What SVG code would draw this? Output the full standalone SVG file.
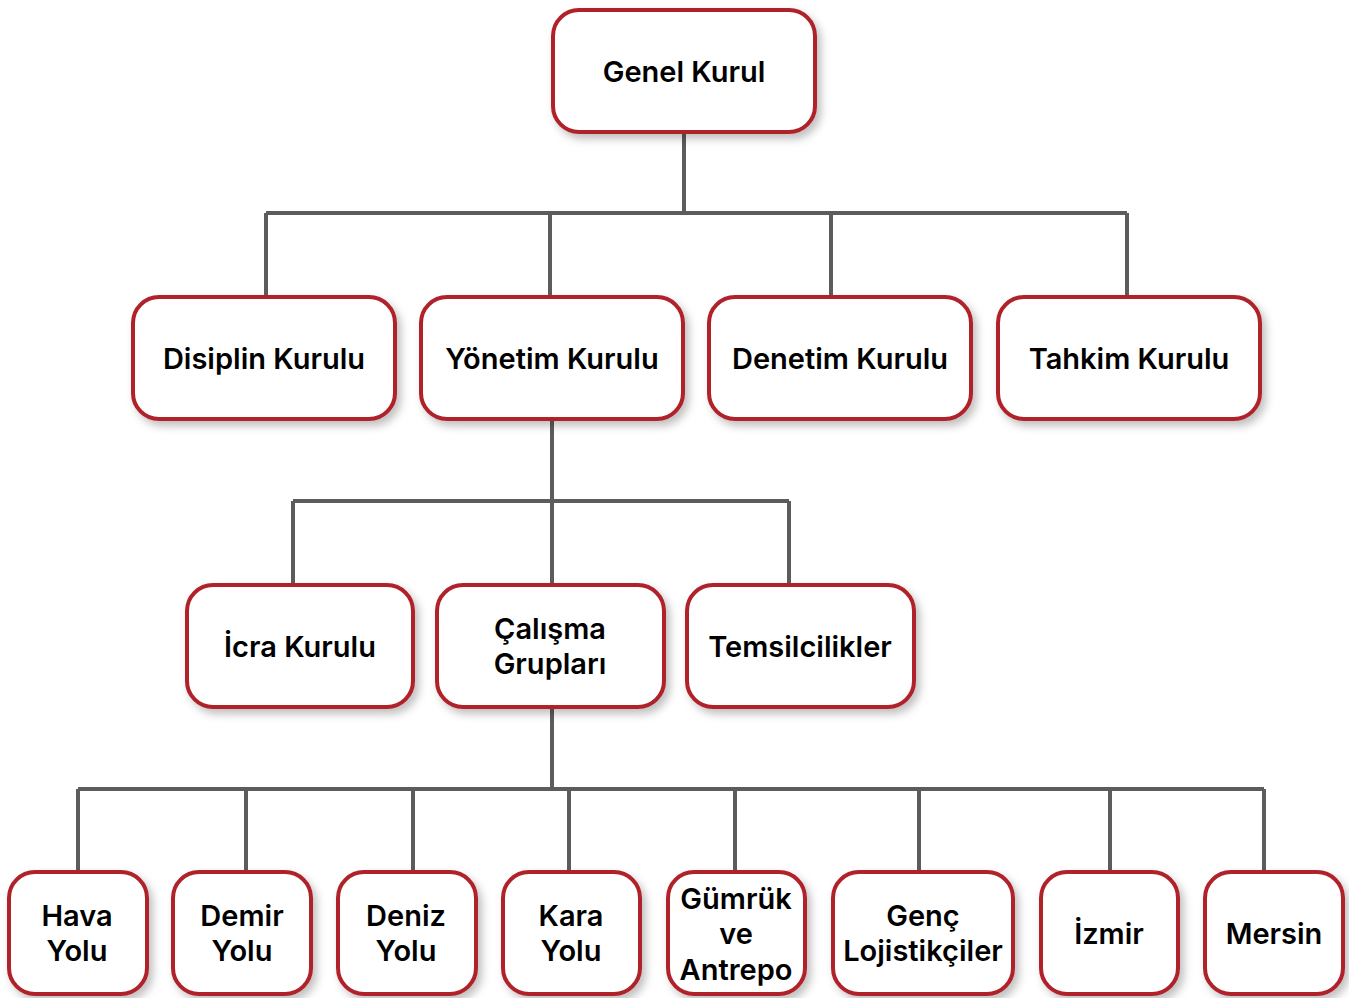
<svg xmlns="http://www.w3.org/2000/svg" width="1349" height="998" viewBox="0 0 1349 998">
<style>
.n rect{fill:#fff;stroke:#b0222a;stroke-width:4;filter:url(#sh)}
.n text{font-family:Inter,"Liberation Sans",sans-serif;font-weight:600;font-size:29px;fill:#000;text-anchor:middle}
.c path{fill:none;stroke:#5c5c5c;stroke-width:4}
</style>
<defs>
<filter id="sh" x="-20%" y="-20%" width="140%" height="150%">
<feDropShadow dx="4" dy="5" stdDeviation="4" flood-color="#000" flood-opacity="0.25"/>
</filter>
</defs>
<g class="c" id="connectors">
<path d="M684 132V213M266 213H1127M266 213V297M550 213V297M831 213V297M1127 213V297"/>
<path d="M552 419V501M293 501H789M293 501V585M552 501V585M789 501V585"/>
<path d="M552 707V789M78 789H1264M78 789V872M246 789V872M413 789V872M569 789V872M735 789V872M919 789V872M1110 789V872M1264 789V872"/>
</g>
<g class="n" id="genel"><rect x="553" y="10" width="262" height="122" rx="26"/><text x="684" y="82">Genel Kurul</text></g>
<g class="n" id="disiplin"><rect x="133" y="297" width="262" height="122" rx="26"/><text x="264" y="369">Disiplin Kurulu</text></g>
<g class="n" id="yonetim"><rect x="421" y="297" width="262" height="122" rx="26"/><text x="552" y="369">Yönetim Kurulu</text></g>
<g class="n" id="denetim"><rect x="709" y="297" width="262" height="122" rx="26"/><text x="840" y="369">Denetim Kurulu</text></g>
<g class="n" id="tahkim"><rect x="998" y="297" width="262" height="122" rx="26"/><text x="1129" y="369">Tahkim Kurulu</text></g>
<g class="n" id="icra"><rect x="187" y="585" width="226" height="122" rx="26"/><text x="300" y="657">İcra Kurulu</text></g>
<g class="n" id="calisma"><rect x="437" y="585" width="227" height="122" rx="26"/><text x="550" y="639">Çalışma</text><text x="550" y="674">Grupları</text></g>
<g class="n" id="temsil"><rect x="687" y="585" width="227" height="122" rx="26"/><text x="800" y="657">Temsilcilikler</text></g>
<g class="n" id="hava"><rect x="9" y="872" width="138" height="122" rx="26"/><text x="77" y="926">Hava</text><text x="77" y="961">Yolu</text></g>
<g class="n" id="demir"><rect x="173" y="872" width="138" height="122" rx="26"/><text x="242" y="926">Demir</text><text x="242" y="961">Yolu</text></g>
<g class="n" id="deniz"><rect x="338" y="872" width="138" height="122" rx="26"/><text x="406" y="926">Deniz</text><text x="406" y="961">Yolu</text></g>
<g class="n" id="kara"><rect x="503" y="872" width="137" height="122" rx="26"/><text x="571" y="926">Kara</text><text x="571" y="961">Yolu</text></g>
<g class="n" id="gumruk"><rect x="668" y="872" width="137" height="122" rx="26"/><text x="736" y="909">Gümrük</text><text x="736" y="944">ve</text><text x="736" y="980">Antrepo</text></g>
<g class="n" id="genc"><rect x="833" y="872" width="180" height="122" rx="26"/><text x="923" y="926">Genç</text><text x="923" y="961">Lojistikçiler</text></g>
<g class="n" id="izmir"><rect x="1041" y="872" width="137" height="122" rx="26"/><text x="1109" y="944">İzmir</text></g>
<g class="n" id="mersin"><rect x="1205" y="872" width="138" height="122" rx="26"/><text x="1274" y="944">Mersin</text></g>
</svg>
